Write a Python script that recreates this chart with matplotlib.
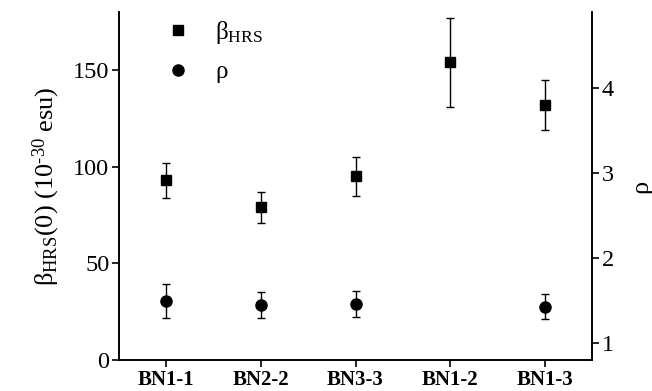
import numpy as np
import matplotlib
matplotlib.use("Agg")
import matplotlib.pyplot as plt
from matplotlib.lines import Line2D

plt.rcParams['font.family'] = ['Liberation Serif', 'DejaVu Serif']
plt.rcParams['mathtext.fontset'] = 'custom'
plt.rcParams['mathtext.rm'] = 'Liberation Serif'
plt.rcParams['mathtext.it'] = 'Liberation Serif:italic'
plt.rcParams['mathtext.bf'] = 'Liberation Serif:bold'

categories = ["BN1-1", "BN2-2", "BN3-3", "BN1-2", "BN1-3"]
beta_values = [93, 79, 95, 154, 132]
beta_errors = [9, 8, 10, 23, 13]
rho_values = [1.50, 1.45, 1.46, np.nan, 1.43]
rho_errors = [0.20, 0.15, 0.15, np.nan, 0.15]

x = np.arange(1, len(categories) + 1)

fig = plt.figure(figsize=(6.52, 3.91), dpi=100)
ax = fig.add_axes([0.1825, 0.0793, 0.7255, 0.8897])
ax2 = ax.twinx()

ax.errorbar(x, beta_values, yerr=beta_errors, fmt='s', color='black', ms=7,
            capsize=3, elinewidth=1, capthick=1)
mask = ~np.isnan(rho_values)
ax2.errorbar(x[mask], np.array(rho_values)[mask], yerr=np.array(rho_errors)[mask],
             fmt='o', color='black', ms=8, capsize=3, elinewidth=1, capthick=1)

ax.set_xlim(0.5, 5.5)
ax.set_ylim(0, 180)
ax2.set_ylim(0.8, 4.9)
ax.set_yticks([0, 50, 100, 150])
ax2.set_yticks([1, 2, 3, 4])
ax.set_xticks(x)
ax.set_xticklabels(categories, fontweight='bold', fontsize=15)

for a in (ax, ax2):
    a.spines['top'].set_visible(False)
    for s in a.spines.values():
        s.set_linewidth(1.2)
    a.tick_params(direction='out', length=5, width=1.2, labelsize=17.5, pad=2)
ax.tick_params(axis='x', labelsize=15, pad=2)

ax.set_ylabel('β$_{\\mathrm{HRS}}$(0) (10$^{\\mathrm{‐30}}$ esu)', fontsize=19, labelpad=8)
ax2.set_ylabel('ρ', fontsize=19, rotation=90, labelpad=12)

handles = [Line2D([], [], marker='s', color='black', ls='none', ms=7),
           Line2D([], [], marker='o', color='black', ls='none', ms=8)]
ax.legend(handles, ['β$_{\\mathrm{HRS}}$', 'ρ'], loc='upper left',
          bbox_to_anchor=(0.05, 1.045), frameon=False, fontsize=18,
          handlelength=1.0, handletextpad=1.0, labelspacing=0.6)

fig.savefig('out.png', dpi=100)
